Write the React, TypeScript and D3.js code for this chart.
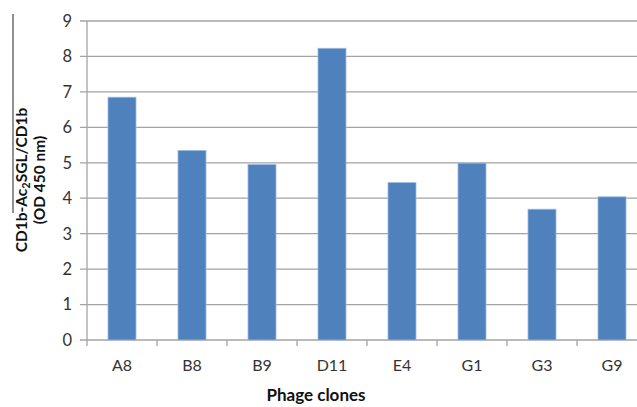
import React from "react";
import * as d3 from "d3";

const categories = ["A8", "B8", "B9", "D11", "E4", "G1", "G3", "G9"];
const values = [6.85, 5.35, 4.95, 8.23, 4.44, 4.99, 3.69, 4.04];
const yTicks = [0, 1, 2, 3, 4, 5, 6, 7, 8, 9];

const W = 637;
const H = 407;
const left = 87;
const top = 21;
const bottom = 340;
const bandW = 70;
const right = left + bandW * categories.length;

const FONT = "Lato, 'Open Sans', sans-serif";

export default function App() {
  const x = d3.scaleBand<string>().domain(categories).range([left, right]).paddingInner(0.6).paddingOuter(0.3);
  const xb = d3.scaleBand<string>().domain(categories).range([left, right]);
  const y = d3.scaleLinear().domain([0, 9]).range([bottom, top]);
  const barColor = "#4f81bd";
  const grid = "#a3a3a3";

  return (
    <div style={{ position: "absolute", left: 0, top: 0 }}>
      <svg width={W} height={H} style={{ display: "block", background: "#fff" }}>
        {yTicks.map((t) => (
          <g key={t}>
            <line x1={left - 7} x2={W} y1={y(t)} y2={y(t)} stroke={grid} strokeWidth={1.3} />
            <text x={72} y={y(t)} dy="0.36em" textAnchor="end" fontFamily={FONT} fontSize={16.5} fill="#333">
              {t}
            </text>
          </g>
        ))}
        <line x1={left} x2={left} y1={top} y2={bottom} stroke={grid} strokeWidth={1.3} />
        {categories.map((c) => (
          <line key={"t" + c} x1={xb(c)!} x2={xb(c)!} y1={bottom} y2={bottom + 6} stroke={grid} strokeWidth={1.3} />
        ))}
        {categories.map((c, i) => (
          <rect
            key={c}
            x={x(c)!}
            y={y(values[i])}
            width={x.bandwidth()}
            height={bottom - y(values[i])}
            fill={barColor}
            stroke="#9dbbe0"
            strokeWidth={0.8}
          />
        ))}
        {categories.map((c) => (
          <text
            key={"l" + c}
            x={xb(c)! + xb.bandwidth() / 2}
            y={371}
            textAnchor="middle"
            fontFamily={FONT}
            fontSize={16}
            fill="#333"
          >
            {c}
          </text>
        ))}
        <text x={316} y={401} textAnchor="middle" fontFamily={FONT} fontSize={17} fontWeight="bold" fill="#111">
          Phage clones
        </text>
        <g transform="translate(27,180) rotate(-90)">
          <text x={0} y={0} textAnchor="middle" fontFamily={FONT} fontSize={15.5} fontWeight="bold" fill="#111">
            CD1b-Ac<tspan fontSize={11} dy={3}>2</tspan>
            <tspan dy={-3}>SGL/CD1b</tspan>
          </text>
          <text x={0} y={18} textAnchor="middle" fontFamily={FONT} fontSize={15.5} fontWeight="bold" fill="#111">
            (OD 450 nm)
          </text>
        </g>
        <line x1={13} x2={13} y1={14} y2={213} stroke="#222" strokeWidth={1} />
      </svg>
    </div>
  );
}
